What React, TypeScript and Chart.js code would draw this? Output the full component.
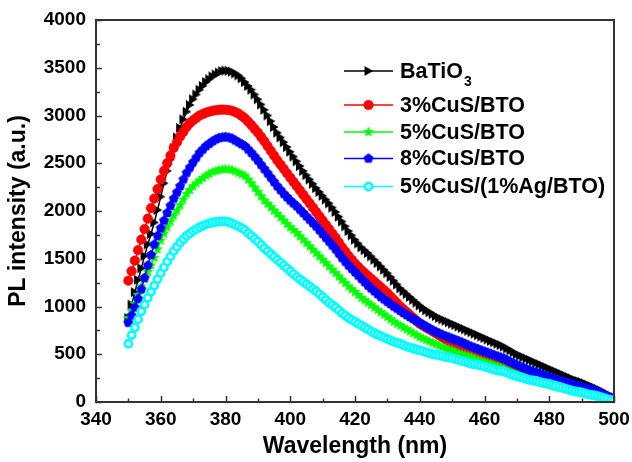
import React, { useEffect, useRef } from "react";
import { Chart, registerables } from "chart.js";

Chart.register(...registerables);

// Spectra are sampled every 1 nm from 350 nm to 500 nm
const WAVELENGTH_START = 350;
const WAVELENGTH_STEP = 1;

// Axis ranges and tick spacing
const X_MIN = 340;
const X_MAX = 500;
const X_STEP = 20;
const Y_MIN = 0;
const Y_MAX = 4000;
const Y_STEP = 500;

// PL intensity (a.u.), one value per nm from 350 nm
const BATIO3 = [
  880, 1020, 1150, 1280, 1400, 1530, 1650, 1760, 1880, 2010,
  2150, 2290, 2420, 2540, 2660, 2770, 2870, 2960, 3040, 3110,
  3170, 3220, 3270, 3310, 3350, 3380, 3410, 3430, 3450, 3465,
  3470, 3468, 3460, 3440, 3420, 3390, 3350, 3310, 3270, 3220,
  3170, 3115, 3060, 3000, 2940, 2880, 2820, 2770, 2720, 2670,
  2620, 2570, 2520, 2470, 2420, 2375, 2330, 2285, 2240, 2200,
  2160, 2120, 2080, 2035, 1990, 1940, 1890, 1840, 1790, 1745,
  1700, 1660, 1620, 1590, 1560, 1525, 1490, 1455, 1420, 1385,
  1350, 1310, 1270, 1230, 1190, 1160, 1130, 1100, 1070, 1040,
  1010, 985, 960, 940, 920, 900, 880, 865, 850, 835,
  820, 805, 790, 775, 760, 745, 730, 715, 700, 685,
  670, 655, 640, 625, 610, 595, 580, 560, 540, 520,
  500, 485, 470, 455, 440, 425, 410, 395, 380, 365,
  350, 335, 320, 305, 290, 275, 260, 245, 230, 220,
  210, 195, 180, 165, 150, 135, 120, 100, 80, 60,
  40,
];

const CUS3_BTO = [
  1270, 1370, 1480, 1590, 1700, 1810, 1920, 2030, 2130, 2230,
  2330, 2420, 2500, 2580, 2660, 2720, 2780, 2830, 2880, 2920,
  2950, 2975, 3000, 3015, 3030, 3040, 3050, 3055, 3060, 3062,
  3060, 3057, 3050, 3035, 3020, 2995, 2970, 2935, 2900, 2860,
  2820, 2775, 2730, 2680, 2630, 2580, 2530, 2485, 2440, 2395,
  2350, 2305, 2260, 2215, 2170, 2125, 2080, 2035, 1990, 1945,
  1900, 1855, 1810, 1765, 1720, 1670, 1620, 1575, 1530, 1490,
  1450, 1415, 1380, 1350, 1320, 1290, 1260, 1230, 1200, 1170,
  1140, 1105, 1070, 1035, 1000, 970, 940, 910, 880, 850,
  820, 800, 780, 760, 740, 720, 698, 676, 654, 632,
  610, 592, 574, 556, 538, 520, 506, 492, 478, 464,
  450, 438, 426, 414, 402, 390, 378, 366, 354, 342,
  330, 318, 306, 294, 282, 270, 260, 250, 240, 230,
  220, 211, 202, 193, 184, 175, 166, 157, 148, 139,
  130, 121, 112, 103, 94, 85, 74, 63, 52, 41,
  30,
];

const CUS5_BTO = [
  880, 950, 1030, 1120, 1210, 1285, 1360, 1430, 1510, 1600,
  1690, 1765, 1830, 1890, 1950, 2005, 2060, 2120, 2180, 2220,
  2260, 2290, 2320, 2345, 2370, 2390, 2410, 2420, 2430, 2437,
  2440, 2437, 2430, 2415, 2400, 2385, 2370, 2330, 2290, 2245,
  2200, 2155, 2110, 2075, 2040, 2005, 1970, 1935, 1900, 1865,
  1830, 1800, 1770, 1735, 1700, 1665, 1630, 1595, 1560, 1525,
  1490, 1455, 1420, 1385, 1350, 1315, 1280, 1245, 1210, 1180,
  1150, 1120, 1090, 1065, 1040, 1015, 990, 965, 940, 915,
  890, 865, 840, 820, 800, 780, 760, 740, 720, 700,
  680, 665, 650, 635, 620, 605, 590, 575, 560, 550,
  540, 525, 510, 500, 490, 480, 470, 455, 440, 430,
  420, 410, 400, 388, 375, 362, 350, 335, 320, 305,
  290, 280, 270, 255, 240, 230, 220, 210, 200, 190,
  180, 170, 160, 152, 145, 138, 130, 122, 115, 108,
  100, 92, 85, 78, 70, 62, 55, 48, 40, 32,
  25,
];

const CUS8_BTO = [
  830, 905, 990, 1080, 1180, 1300, 1430, 1540, 1650, 1740,
  1820, 1900, 1980, 2055, 2130, 2195, 2260, 2330, 2400, 2455,
  2510, 2560, 2610, 2645, 2680, 2705, 2730, 2750, 2765, 2772,
  2775, 2770, 2760, 2740, 2720, 2700, 2680, 2645, 2610, 2570,
  2530, 2485, 2440, 2395, 2350, 2305, 2260, 2220, 2180, 2145,
  2110, 2080, 2050, 2015, 1980, 1945, 1910, 1875, 1840, 1800,
  1760, 1720, 1680, 1640, 1600, 1555, 1510, 1470, 1430, 1395,
  1360, 1325, 1290, 1255, 1220, 1190, 1160, 1130, 1100, 1075,
  1050, 1025, 1000, 978, 955, 932, 910, 890, 870, 850,
  830, 810, 790, 770, 750, 735, 720, 705, 690, 678,
  665, 652, 640, 625, 610, 595, 580, 568, 555, 542,
  530, 518, 505, 492, 480, 468, 455, 438, 420, 405,
  390, 375, 360, 345, 330, 320, 310, 298, 285, 272,
  260, 250, 240, 230, 220, 210, 200, 190, 180, 170,
  160, 150, 140, 130, 120, 108, 95, 78, 60, 48,
  35,
];

const CUS5_AG1_BTO = [
  610, 700, 780, 865, 950, 1020, 1090, 1155, 1220, 1285,
  1350, 1410, 1470, 1525, 1580, 1625, 1670, 1705, 1740, 1765,
  1790, 1810, 1830, 1845, 1860, 1870, 1880, 1885, 1890, 1892,
  1890, 1882, 1870, 1855, 1840, 1820, 1800, 1770, 1740, 1710,
  1680, 1645, 1610, 1580, 1550, 1520, 1490, 1460, 1430, 1400,
  1370, 1340, 1310, 1285, 1260, 1235, 1210, 1185, 1160, 1130,
  1100, 1070, 1040, 1015, 990, 960, 930, 905, 880, 860,
  840, 820, 800, 780, 760, 740, 720, 705, 690, 675,
  660, 645, 630, 620, 610, 595, 580, 570, 560, 550,
  540, 530, 520, 510, 500, 495, 490, 480, 470, 465,
  460, 450, 440, 430, 420, 410, 400, 395, 390, 380,
  370, 360, 350, 340, 330, 325, 320, 305, 290, 280,
  270, 260, 250, 240, 230, 225, 220, 210, 200, 195,
  190, 180, 170, 160, 150, 140, 130, 120, 110, 105,
  100, 90, 80, 75, 70, 60, 50, 40, 30, 22,
  15,
];

// Legend names (the "3" of BaTiO3 is drawn as a subscript)
const SERIES_NAMES = ["BaTiO", "3%CuS/BTO", "5%CuS/BTO", "8%CuS/BTO", "5%CuS/(1%Ag/BTO)"];
const SERIES_SUBSCRIPTS = ["3", "", "", "", ""];
const SERIES_VALUES = [BATIO3, CUS3_BTO, CUS5_BTO, CUS8_BTO, CUS5_AG1_BTO];
const SERIES_COLORS = ["#000000", "#ff0000", "#00ff00", "#0000ff", "#00ffff"];
const SERIES_MARKERS = ["triangle", "circle", "star", "pentagon", "ring"];

const FONT_FAMILY = "'Liberation Sans', Arial, Helvetica, sans-serif";

function makeMarker(kind: string, color: string): HTMLCanvasElement | string {
  if (kind === "circle" || kind === "ring") return "circle";
  const size = 12;
  const c = document.createElement("canvas");
  c.width = size;
  c.height = size;
  const g = c.getContext("2d")!;
  const cx = size / 2;
  const cy = size / 2;
  g.fillStyle = color;
  g.beginPath();
  if (kind === "triangle") {
    g.moveTo(cx - 4, cy - 5);
    g.lineTo(cx + 4.6, cy);
    g.lineTo(cx - 4, cy + 5);
  } else if (kind === "star") {
    for (let k = 0; k < 10; k++) {
      const r = k % 2 === 0 ? 5.8 : 2.5;
      const a = -Math.PI / 2 + (k * Math.PI) / 5;
      const px = cx + r * Math.cos(a);
      const py = cy + r * Math.sin(a);
      if (k === 0) g.moveTo(px, py);
      else g.lineTo(px, py);
    }
  } else if (kind === "pentagon") {
    for (let k = 0; k < 5; k++) {
      const a = -Math.PI / 2 + (k * 2 * Math.PI) / 5;
      const px = cx + 5.2 * Math.cos(a);
      const py = cy + 5.2 * Math.sin(a);
      if (k === 0) g.moveTo(px, py);
      else g.lineTo(px, py);
    }
  }
  g.closePath();
  g.fill();
  return c;
}

// Inward major/minor ticks and the closed frame around the plot
const framePlugin = {
  id: "frameTicks",
  afterDatasetsDraw(chart: any) {
    const { ctx, chartArea: a, scales } = chart;
    const xs = scales.x;
    const ys = scales.y;
    ctx.save();
    ctx.strokeStyle = "#333333";
    ctx.lineWidth = 1.5;
    ctx.beginPath();
    const xv = xs.ticks.map((t: any) => t.value);
    xv.forEach((v: number, i: number) => {
      const px = Math.round(xs.getPixelForValue(v)) + 0.5;
      ctx.moveTo(px, a.bottom);
      ctx.lineTo(px, a.bottom - 6);
      if (i < xv.length - 1) {
        const mx = Math.round(xs.getPixelForValue((v + xv[i + 1]) / 2)) + 0.5;
        ctx.moveTo(mx, a.bottom);
        ctx.lineTo(mx, a.bottom - 3.5);
      }
    });
    const yv = ys.ticks.map((t: any) => t.value);
    yv.forEach((v: number, i: number) => {
      const py = Math.round(ys.getPixelForValue(v)) + 0.5;
      ctx.moveTo(a.left, py);
      ctx.lineTo(a.left + 6, py);
      if (i < yv.length - 1) {
        const my = Math.round(ys.getPixelForValue((v + yv[i + 1]) / 2)) + 0.5;
        ctx.moveTo(a.left, my);
        ctx.lineTo(a.left + 4, my);
      }
    });
    ctx.stroke();
    ctx.lineWidth = 2;
    ctx.strokeRect(a.left, a.top, a.right - a.left, a.bottom - a.top);
    ctx.restore();
  },
};

// Legend: short line with the series marker, then the bold name
const LEGEND_LINE_X0 = 344;
const LEGEND_LINE_X1 = 393;
const LEGEND_TEXT_X = 400;
const LEGEND_ROWS_Y = [71, 105, 132, 158.5, 186.5];

const legendPlugin = {
  id: "curveLegend",
  afterDraw(chart: any) {
    const { ctx } = chart;
    ctx.save();
    chart.data.datasets.forEach((ds: any, i: number) => {
      const y = LEGEND_ROWS_Y[i];
      ctx.strokeStyle = ds.borderColor;
      ctx.lineWidth = 1.5;
      ctx.beginPath();
      ctx.moveTo(LEGEND_LINE_X0, y);
      ctx.lineTo(LEGEND_LINE_X1, y);
      ctx.stroke();
      const mx = (LEGEND_LINE_X0 + LEGEND_LINE_X1) / 2;
      const style = ds.pointStyle;
      if (typeof style === "string") {
        ctx.beginPath();
        ctx.arc(mx, y, ds.pointRadius, 0, Math.PI * 2);
        ctx.fillStyle = ds.pointBackgroundColor;
        ctx.fill();
        ctx.lineWidth = ds.pointBorderWidth;
        ctx.strokeStyle = ds.pointBorderColor;
        ctx.stroke();
      } else {
        ctx.drawImage(style, mx - style.width / 2, y - style.height / 2);
      }
      ctx.fillStyle = "#000000";
      ctx.textBaseline = "middle";
      ctx.textAlign = "left";
      ctx.font = `bold 21.5px ${FONT_FAMILY}`;
      ctx.fillText(SERIES_NAMES[i], LEGEND_TEXT_X, y + 1);
      if (SERIES_SUBSCRIPTS[i]) {
        const w = ctx.measureText(SERIES_NAMES[i]).width;
        ctx.font = `bold 14px ${FONT_FAMILY}`;
        ctx.fillText(SERIES_SUBSCRIPTS[i], LEGEND_TEXT_X + w + 1, y + 11);
      }
    });
    ctx.restore();
  },
};

export default function App() {
  const canvasRef = useRef<HTMLCanvasElement | null>(null);

  useEffect(() => {
    const canvas = canvasRef.current;
    if (!canvas) return;

    const datasets = SERIES_VALUES.map((values, i) => {
      const color = SERIES_COLORS[i];
      const kind = SERIES_MARKERS[i];
      const ring = kind === "ring";
      return {
        label: SERIES_NAMES[i] + SERIES_SUBSCRIPTS[i],
        data: values.map((v, k) => ({ x: WAVELENGTH_START + k * WAVELENGTH_STEP, y: v })),
        borderColor: color,
        backgroundColor: color,
        borderWidth: 1.5,
        pointStyle: makeMarker(kind, color),
        pointRadius: ring ? 3.6 : 4.8,
        pointBackgroundColor: ring ? "#ffffff" : color,
        pointBorderColor: color,
        pointBorderWidth: ring ? 2.6 : 0.5,
        tension: 0,
        order: SERIES_VALUES.length - i,
      };
    });

    const tickFont = { family: FONT_FAMILY, size: 19, weight: "bold" as const };
    const titleFont = { family: FONT_FAMILY, size: 23, weight: "bold" as const };
    const plainNumber = (v: any) => String(v);

    const chart = new Chart(canvas, {
      type: "line",
      data: { datasets },
      options: {
        responsive: false,
        animation: false,
        devicePixelRatio: 1,
        layout: { padding: { top: 20, right: 18, left: 0, bottom: 0 } },
        plugins: {
          legend: { display: false },
          tooltip: { enabled: false },
        },
        scales: {
          x: {
            type: "linear",
            min: X_MIN,
            max: X_MAX,
            ticks: {
              stepSize: X_STEP,
              color: "#000000",
              font: tickFont,
              padding: 6,
              maxRotation: 0,
              autoSkip: false,
              callback: plainNumber,
            },
            grid: { display: false, drawTicks: false },
            border: { display: false },
            title: {
              display: true,
              text: "Wavelength (nm)",
              color: "#000000",
              font: titleFont,
              padding: { top: 0, bottom: 2 },
            },
            afterFit: (s: any) => {
              s.height = 60;
              s.paddingLeft = 0;
              s.paddingRight = 0;
            },
          },
          y: {
            type: "linear",
            min: Y_MIN,
            max: Y_MAX,
            ticks: {
              stepSize: Y_STEP,
              color: "#000000",
              font: tickFont,
              padding: 10,
              callback: plainNumber,
            },
            grid: { display: false, drawTicks: false },
            border: { display: false },
            title: {
              display: true,
              text: "PL intensity (a.u.)",
              color: "#000000",
              font: titleFont,
              padding: { top: 5, bottom: 0 },
            },
            afterFit: (s: any) => {
              s.width = 96;
              s.paddingTop = 0;
              s.paddingBottom = 0;
            },
          },
        },
      },
      plugins: [framePlugin, legendPlugin],
    });

    return () => chart.destroy();
  }, []);

  return (
    <div style={{ position: "absolute", left: 0, top: 0, width: 632, height: 462, background: "#ffffff" }}>
      <canvas ref={canvasRef} width={632} height={462} />
    </div>
  );
}
